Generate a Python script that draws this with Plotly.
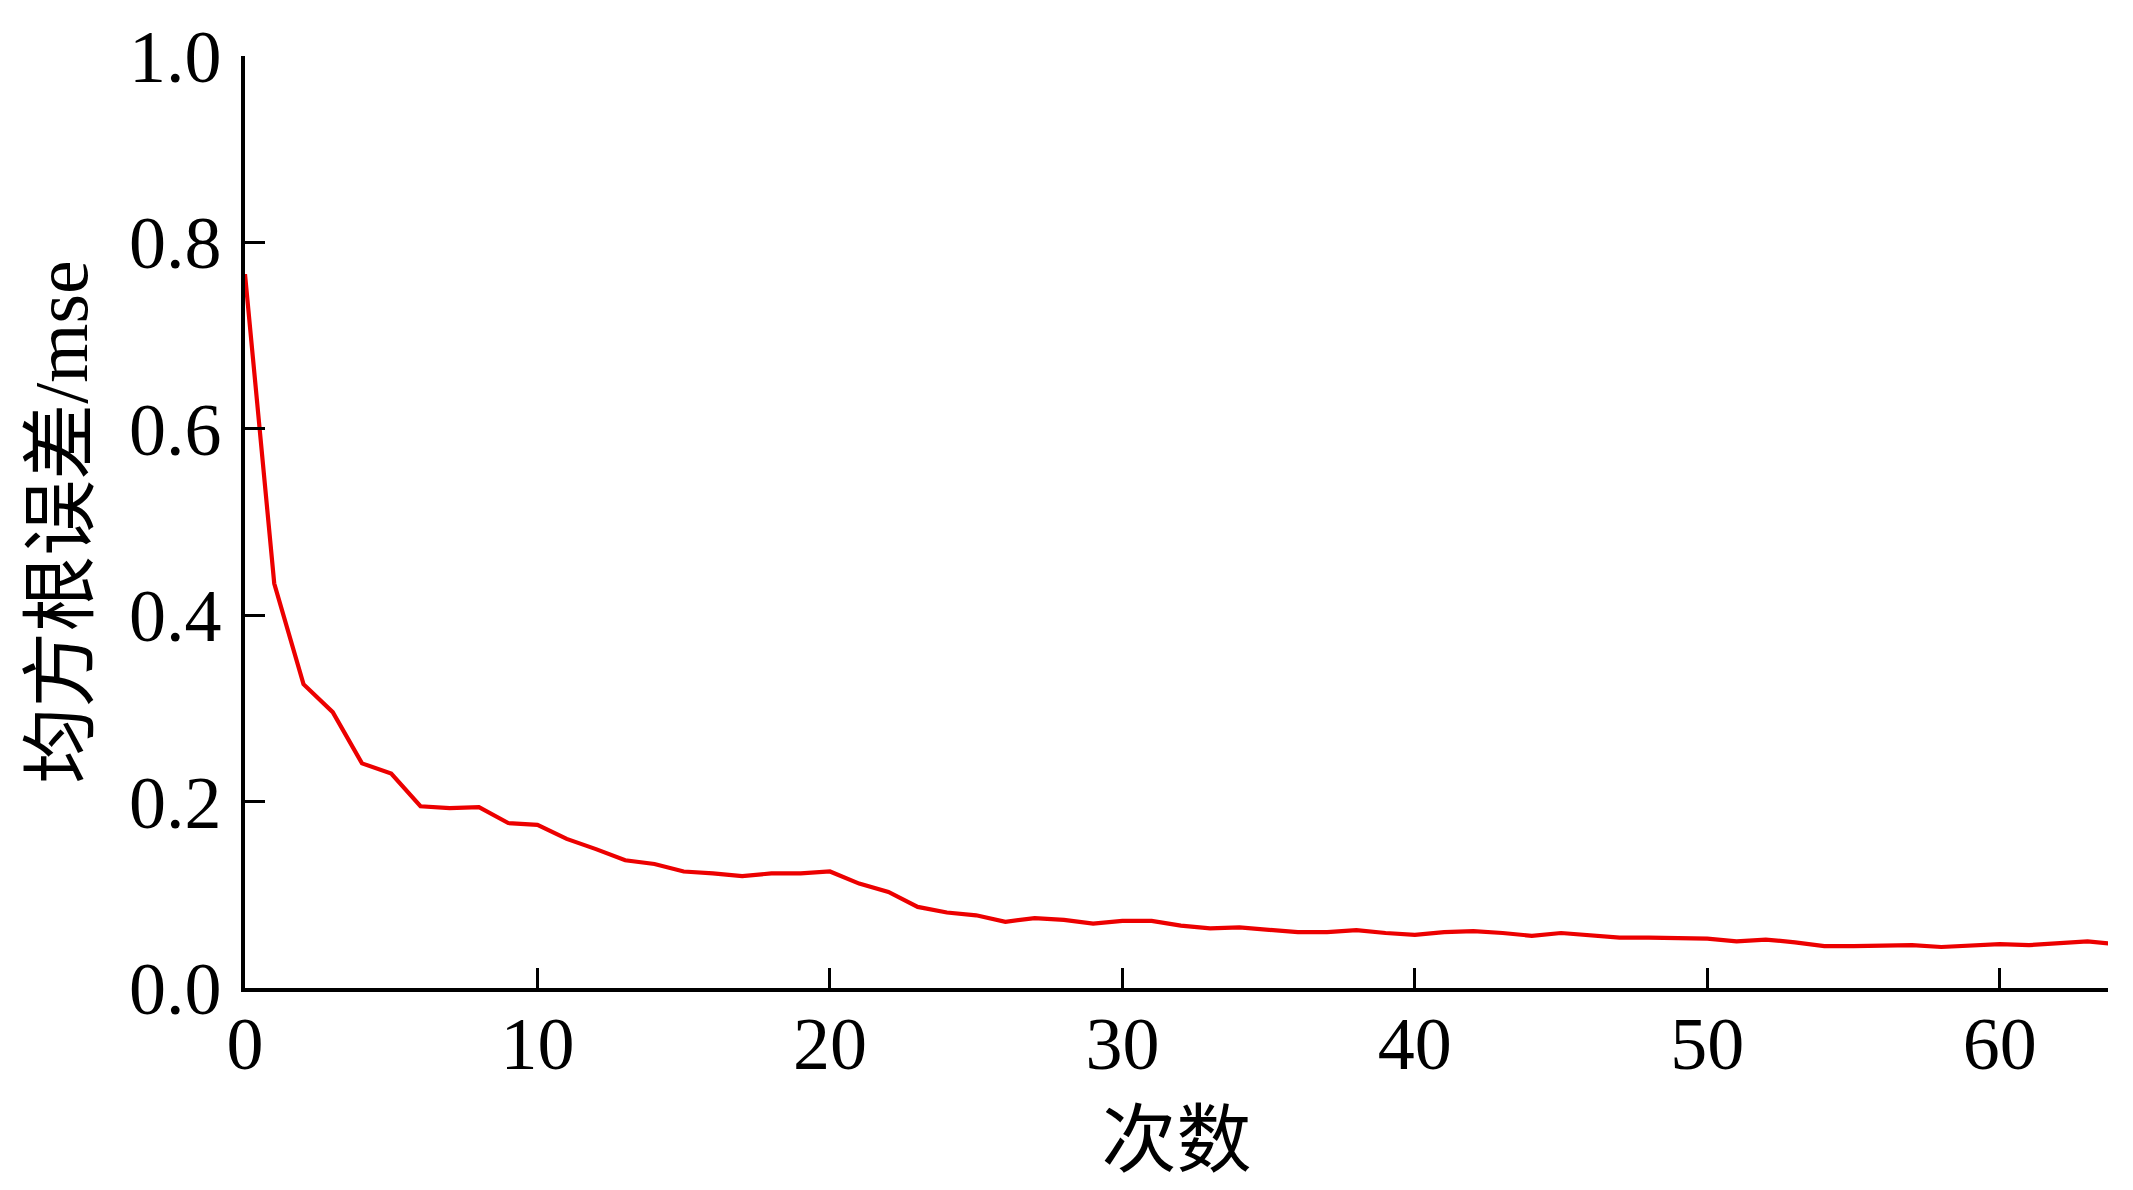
import plotly.graph_objects as go

iterations = list(range(0, 65))
mse = [0.766, 0.434, 0.326, 0.296, 0.241, 0.230, 0.195, 0.193, 0.194, 0.177,
       0.175, 0.160, 0.149, 0.137, 0.133, 0.125, 0.123, 0.120, 0.123, 0.123,
       0.125, 0.112, 0.103, 0.087, 0.081, 0.078, 0.071, 0.075, 0.073, 0.069,
       0.072, 0.072, 0.067, 0.064, 0.065, 0.063, 0.060, 0.060, 0.062, 0.059,
       0.057, 0.060, 0.061, 0.059, 0.056, 0.059, 0.056, 0.054, 0.054, 0.054,
       0.053, 0.050, 0.052, 0.049, 0.045, 0.045, 0.046, 0.046, 0.044, 0.045,
       0.047, 0.046, 0.048, 0.050, 0.047]

x_ticks = [0, 10, 20, 30, 40, 50, 60]
y_ticks = [0.0, 0.2, 0.4, 0.6, 0.8, 1.0]
x_title = "次数"
y_title = "均方根误差/mse"

FONT = "Liberation Serif, 'Times New Roman', 'Noto Sans CJK SC', serif"

fig = go.Figure()
fig.add_trace(go.Scatter(x=iterations, y=mse, mode="lines",
                         line=dict(color="#ec0000", width=4.2),
                         showlegend=False))

# page body has an 8px margin, so the figure is sized to fit inside it
fig.update_layout(
    width=2117, height=1174,
    margin=dict(l=237, r=17, t=48, b=194),
    paper_bgcolor="white", plot_bgcolor="white",
    font=dict(family=FONT, color="black", size=74),
)
fig.update_xaxes(
    range=[0, 63.7], tickvals=x_ticks, ticktext=[str(v) for v in x_ticks],
    showline=True, linecolor="black", linewidth=3.5,
    ticks="inside", ticklen=20, tickwidth=2.5, tickcolor="black",
    showgrid=False, zeroline=False, automargin=False,
    ticklabelstandoff=-12,
    tickfont=dict(family=FONT, size=74),
    title=dict(text=x_title, font=dict(family=FONT, size=75), standoff=31),
)
fig.update_yaxes(
    range=[0, 1], tickvals=y_ticks, ticktext=[f"{v:.1f}" for v in y_ticks],
    showline=True, linecolor="black", linewidth=3.5,
    ticks="inside", ticklen=20, tickwidth=2.5, tickcolor="black",
    showgrid=False, zeroline=False, ticklabelstandoff=5, automargin=False,
    tickfont=dict(family=FONT, size=74),
    title=dict(text=y_title, font=dict(family=FONT, size=76), standoff=17),
)

fig.write_html("out.html")
